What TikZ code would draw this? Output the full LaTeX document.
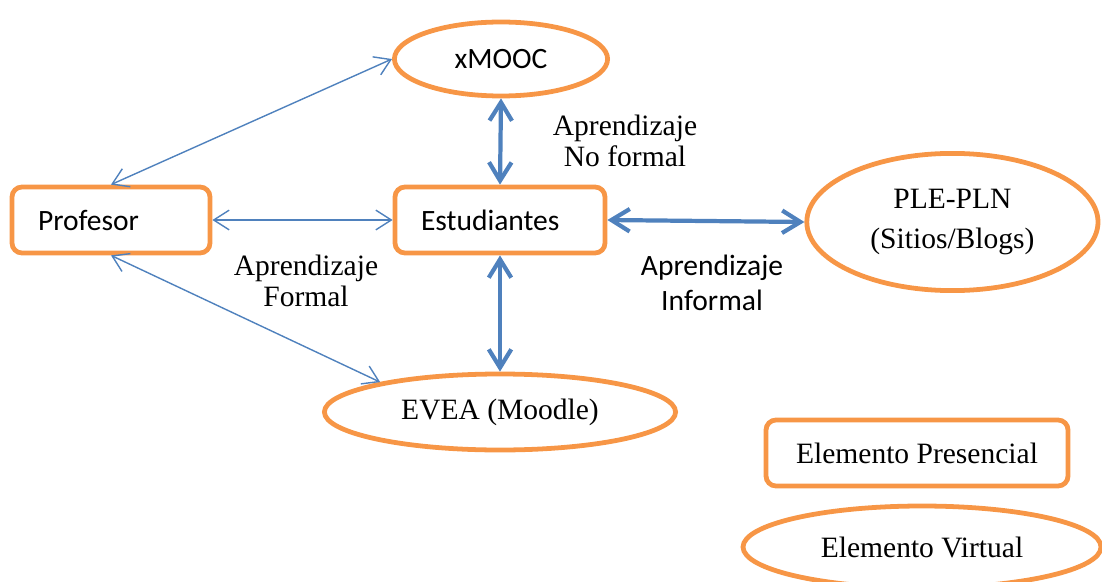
\documentclass[tikz,border=0pt]{standalone}
\usepackage{fontspec}
\setmainfont{Liberation Serif}
\newfontfamily\calibri{Carlito}
\usepackage{xcolor}
\definecolor{nar}{RGB}{247,150,70}
\definecolor{azu}{RGB}{79,129,189}
\usetikzlibrary{shapes.geometric,arrows.meta}

\begin{document}
\begin{tikzpicture}[line cap=round]
	\tikzstyle{caja}=[draw=nar,line width=3.4pt,rounded corners=0.25cm,minimum height=1.65cm,inner xsep=0.65cm,inner ysep=0pt];
	\tikzstyle{elipse}=[ellipse,draw=nar,line width=3.4pt,inner sep=0pt,align=center];
	\tikzstyle{times}=[font=\fontsize{21}{22.5}\selectfont];
	\tikzstyle{cal}=[font=\calibri\fontsize{21}{24.5}\selectfont];
	\tikzstyle{fina}=[azu,line width=1pt,arrows={Straight Barb[length=11pt,width=14pt]-Straight Barb[length=11pt,width=14pt]}];
	\tikzstyle{gruesa}=[azu,line width=3pt,arrows={Straight Barb[length=13pt,width=16pt]-Straight Barb[length=13pt,width=16pt]}];
%<--------------------------------------------------------------------------->%

	\useasboundingbox (0,0) rectangle (27.55,-14.525);
	\coordinate (X)  at (12.525,-1.475);
	\coordinate (P)  at (2.775,-5.5);
	\coordinate (E)  at (12.5,-5.5);
	\coordinate (L)  at (23.81,-5.55);
	\coordinate (V)  at (12.5,-10.3);
	\coordinate (EP) at (22.925,-11.325);
	\coordinate (EV) at (23.05,-13.675);
	%% Elementos
	\node[elipse,cal,minimum width=5.33cm,minimum height=1.85cm] (xmooc) at (X) {xMOOC};
	\node[caja,cal,text width=3.65cm,align=left] (prof) at (P) {Profesor};
	\node[caja,cal,text width=3.95cm,align=left] (est) at (E) {Estudiantes};
	\node[elipse,font=\fontsize{21}{28}\selectfont,minimum width=7.28cm,minimum height=3.43cm] (ple) at (L) {PLE-PLN\\(Sitios/Blogs)};
	\node[elipse,times,minimum width=8.78cm,minimum height=1.9cm] (evea) at (V) {EVEA (Moodle)};
	%% Leyenda
	\node[caja,times,minimum width=7.55cm] (pres) at (EP) {Elemento Presencial};
	\node[elipse,times,minimum width=8.95cm,minimum height=2.05cm] (virt) at (EV) {Elemento Virtual};
	%% Flechas
	\draw[fina] (prof.north) -- (xmooc.west);
	\draw[fina] (prof.east) -- (est.west);
	\draw[fina] (prof.south) -- (evea.166);
	\draw[gruesa] (xmooc.south) -- (est.north);
	\draw[gruesa] (est.south) -- (evea.north);
	\draw[gruesa] (est.east) -- (ple.west);
	%% Etiquetas
	\node[times,align=center] (noformal) at (15.625,-3.525) {Aprendizaje\\No formal};
	\node[times,align=center] (formal) at (7.65,-7.025) {Aprendizaje\\Formal};
	\node[cal,align=center] (informal) at (17.8,-7.075) {Aprendizaje\\Informal};
\end{tikzpicture}
\end{document}
